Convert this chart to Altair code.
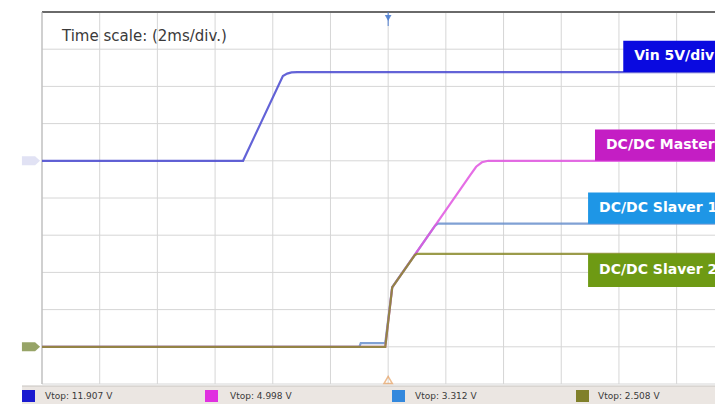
import altair as alt
import pandas as pd

# ---- data (time in ms, 2 ms/div; voltages in V) ----
vin_t = [-12.0, -5.03, -3.65, -3.5, -3.35, -3.15, 11.33]
vin_v = [0.0, 0.0, 11.4, 11.72, 11.88, 11.92, 11.92]

master_t = [-12.0, -0.1, 0.14, 2.85, 3.05, 3.25, 3.47, 11.33]
master_v = [0.0, 0.0, 1.6, 4.62, 4.84, 4.96, 5.0, 5.0]

slave1_t = [-12.0, -1.0, -0.95, -0.1, 0.14, 1.62, 1.72, 11.33]
slave1_v = [0.0, 0.0, 0.1, 0.1, 1.6, 3.25, 3.31, 3.31]

slave2_t = [-12.0, -0.1, 0.14, 0.92, 1.0, 11.33]
slave2_v = [0.0, 0.0, 1.6, 2.46, 2.5, 2.5]

channel_names = ["Vin", "DC/DC Master", "DC/DC Slaver 1", "DC/DC Slaver 2"]
channel_labels = ["Vin 5V/div", "DC/DC Master", "DC/DC Slaver 1", "DC/DC Slaver 2"]
volts_per_div = [5, 1, 1, 1]
ground_div = [6, 1, 1, 1]
vtop_text = ["Vtop: 11.907 V", "Vtop: 4.998 V", "Vtop: 3.312 V", "Vtop: 2.508 V"]
time_note = "Time scale: (2ms/div.)"

x_grid = list(range(-12, 12, 2))
y_grid = list(range(0, 11))

trace_colors = ["#4848d0", "#e055e0", "#6a90cc", "#8a8a2c"]
box_colors = ["#0a0ae0", "#c41ec4", "#1e96e6", "#6e9a14"]
swatch_colors = ["#1a1ad0", "#e030e0", "#3388dd", "#80802a"]

W, H = 673, 372
XDOM = [-12, 11.33]
YDOM = [0, 10]

series = [(vin_t, vin_v), (master_t, master_v), (slave1_t, slave1_v), (slave2_t, slave2_v)]
rows = []
for i, (ts, vs) in enumerate(series):
    for t, v in zip(ts, vs):
        rows.append({"ch": channel_names[i], "t": t, "v": v,
                     "div": ground_div[i] + v / volts_per_div[i]})
traces = pd.DataFrame(rows)

xs = alt.Scale(domain=XDOM, nice=False, zero=False)
ys = alt.Scale(domain=YDOM, nice=False, zero=False)

one = pd.DataFrame({"a": [0]})

vgrid = alt.Chart(pd.DataFrame({"t": x_grid})).mark_rule(color="#d6d6d6", strokeWidth=1).encode(
    x=alt.X("t:Q", scale=xs, axis=None), y=alt.value(0), y2=alt.value(H))
hgrid = alt.Chart(pd.DataFrame({"div": y_grid})).mark_rule(color="#d6d6d6", strokeWidth=1).encode(
    y=alt.Y("div:Q", scale=ys, axis=None), x=alt.value(0), x2=alt.value(W))

top_border = alt.Chart(one).mark_rule(color="#6a6a6a", strokeWidth=2).encode(
    x=alt.value(0), x2=alt.value(W), y=alt.value(0))
left_border = alt.Chart(one).mark_rule(color="#b5b5b5", strokeWidth=1).encode(
    x=alt.value(0), y=alt.value(0), y2=alt.value(H))

layers = [vgrid, hgrid, top_border, left_border]

order = ["Vin", "DC/DC Slaver 1", "DC/DC Master", "DC/DC Slaver 2"]
for name in order:
    i = channel_names.index(name)
    layers.append(
        alt.Chart(traces[traces.ch == name]).mark_line(
            color=trace_colors[i], strokeWidth=2.2, opacity=0.85
        ).encode(x=alt.X("t:Q", scale=xs, axis=None), y=alt.Y("div:Q", scale=ys, axis=None))
    )

# label boxes at the right
box_left = [8.15, 7.17, 6.93, 6.93]
box_rows = []
for i in range(4):
    final_level = ground_div[i] + series[i][1][-1] / volts_per_div[i]
    if i == 3:
        y0, y1 = final_level - 0.89, final_level
    else:
        y0, y1 = final_level, final_level + 0.84
    box_rows.append({"label": channel_labels[i], "x0": box_left[i], "x1": XDOM[1],
                     "y0": y0, "y1": y1, "ym": (y0 + y1) / 2, "c": box_colors[i]})
boxes = pd.DataFrame(box_rows)
layers.append(alt.Chart(boxes).mark_rect().encode(
    x=alt.X("x0:Q", scale=xs, axis=None), x2="x1:Q",
    y=alt.Y("y0:Q", scale=ys, axis=None), y2="y1:Q",
    color=alt.Color("c:N", scale=None)))
layers.append(alt.Chart(boxes).mark_text(
    align="left", baseline="middle", dx=11, font="DejaVu Sans", fontWeight="bold",
    fontSize=14, color="white").encode(
    x=alt.X("x0:Q", scale=xs, axis=None), y=alt.Y("ym:Q", scale=ys, axis=None), text="label:N"))

# time scale note
layers.append(alt.Chart(pd.DataFrame({"s": [time_note]})).mark_text(
    align="left", baseline="middle", font="DejaVu Sans", fontSize=15, color="#3a3a3a").encode(
    x=alt.value(20), y=alt.value(24), text="s:N"))

# trigger markers
layers.append(alt.Chart(pd.DataFrame({"t": [0]})).mark_point(
    shape="triangle-down", filled=True, size=45, color="#4f7fd0", opacity=0.9).encode(
    x=alt.X("t:Q", scale=xs, axis=None), y=alt.value(6)))
layers.append(alt.Chart(pd.DataFrame({"t": [0]})).mark_rule(
    color="#4f7fd0", strokeWidth=1).encode(
    x=alt.X("t:Q", scale=xs, axis=None), y=alt.value(0), y2=alt.value(14)))
layers.append(alt.Chart(pd.DataFrame({"t": [0]})).mark_point(
    shape="triangle-up", filled=False, size=70, color="#e8a060", strokeWidth=1.5).encode(
    x=alt.X("t:Q", scale=xs, axis=None), y=alt.value(H - 4)))

# ground markers at the left
tag = "M-1,-0.5 L0.45,-0.5 L1,0 L0.45,0.5 L-1,0.5 Z"
layers.append(alt.Chart(pd.DataFrame({"div": [ground_div[0]]})).mark_point(
    shape=tag, filled=True, size=330, color="#d4d5ef").encode(
    x=alt.value(-11), y=alt.Y("div:Q", scale=ys, axis=None)))
layers.append(alt.Chart(pd.DataFrame({"div": [ground_div[1]]})).mark_point(
    shape=tag, filled=True, size=330, color="#6b7d26").encode(
    x=alt.value(-11), y=alt.Y("div:Q", scale=ys, axis=None)))

# status bar
layers.append(alt.Chart(one).mark_rect(color="#ebe6e2").encode(
    x=alt.value(-20), x2=alt.value(W), y=alt.value(H + 2), y2=alt.value(H + 20)))
layers.append(alt.Chart(one).mark_rule(color="#c8c4c0", strokeWidth=1).encode(
    x=alt.value(-20), x2=alt.value(W), y=alt.value(H + 2)))
sw_x = [-20, 163, 350, 534]
tx_x = [3, 188, 373, 556]
for i in range(4):
    d = pd.DataFrame({"s": [vtop_text[i]], "c": [swatch_colors[i]]})
    layers.append(alt.Chart(d).mark_rect().encode(
        x=alt.value(sw_x[i]), x2=alt.value(sw_x[i] + 13),
        y=alt.value(H + 6), y2=alt.value(H + 18),
        color=alt.Color("c:N", scale=None)))
    layers.append(alt.Chart(d).mark_text(
        align="left", baseline="middle", font="DejaVu Sans", fontSize=9,
        color="#3a3a3a").encode(x=alt.value(tx_x[i]), y=alt.value(H + 12), text="s:N"))

chart = alt.layer(*layers).properties(
    width=W, height=H,
    autosize=alt.AutoSizeParams(type="none"),
    padding={"left": 42, "top": 12, "right": 0, "bottom": 20},
    background="white",
).configure_view(stroke=None)

chart.save("out.html", embed_options={"renderer": "svg", "actions": False})
